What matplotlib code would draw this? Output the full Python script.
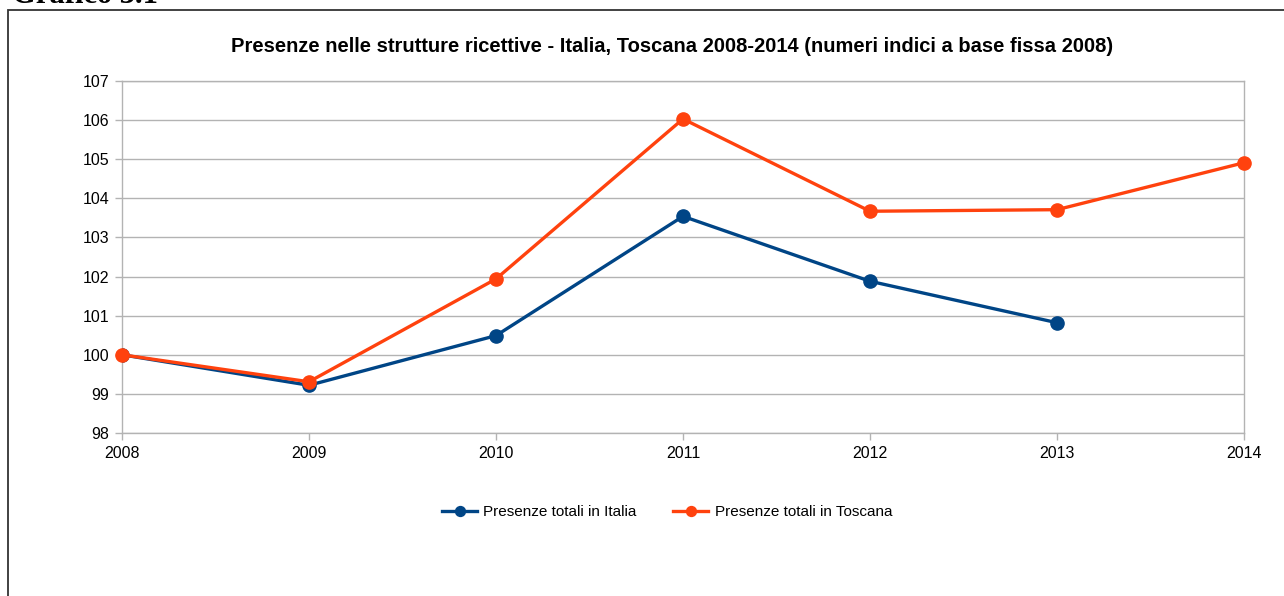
import matplotlib
matplotlib.use("Agg")
import matplotlib.pyplot as plt
from matplotlib.patches import Rectangle

plt.rcParams['font.family'] = ['Liberation Sans', 'DejaVu Sans']

anni = [2008, 2009, 2010, 2011, 2012, 2013, 2014]
italia = [100.0, 99.22, 100.49, 103.54, 101.88, 100.82]
toscana = [100.0, 99.31, 101.94, 106.03, 103.67, 103.71, 104.91]

blu = '#004586'
arancio = '#ff420e'
griglia = '#b3b3b3'

W, H = 1284, 596
fig = plt.figure(figsize=(W / 100, H / 100), dpi=100)

def px(x, y):
    return x / W, 1 - y / H

# cornice del grafico (tagliata a destra e in basso)
x0, y0 = px(8, 10)
fig.patches.append(Rectangle((x0, -0.1), 1.2, y0 + 0.1, transform=fig.transFigure,
                             fill=False, edgecolor='#333333', linewidth=1.3))

tx, ty = px(12, 3)
fig.text(tx, ty, 'Grafico 3.1', family='Liberation Serif', fontweight='bold',
         fontsize=22, ha='left', va='baseline')

l, t = px(122, 81)
r, b = px(1244, 433)
ax = fig.add_axes([l, b, r - l, t - b])

ax.plot(anni[:len(italia)], italia, color=blu, linewidth=2.4, marker='o',
        markersize=9.5, label='Presenze totali in Italia', zorder=3)
ax.plot(anni, toscana, color=arancio, linewidth=2.4, marker='o',
        markersize=9.5, label='Presenze totali in Toscana', zorder=4, clip_on=False)

ax.set_xlim(2008, 2014)
ax.set_ylim(98, 107)
ax.set_xticks(anni)
ax.set_yticks(range(98, 108))
ax.grid(axis='y', color=griglia, linewidth=1)
ax.set_axisbelow(True)
for s in ax.spines.values():
    s.set_color(griglia)
    s.set_linewidth(1)
ax.tick_params(axis='both', colors=griglia, labelcolor='black', labelsize=11.5,
               length=5, width=1)
ax.tick_params(axis='x', pad=4)
ax.tick_params(axis='y', pad=4)

cx, cy = px(672, 47)
fig.text(cx, cy, 'Presenze nelle strutture ricettive - Italia, Toscana 2008-2014 '
         '(numeri indici a base fissa 2008)', fontsize=14.5, fontweight='bold',
         ha='center', va='center')

lx, ly = px(667, 512)
fig.legend(loc='center', bbox_to_anchor=(lx, ly), ncol=2, frameon=False,
           fontsize=11, handlelength=2.3, columnspacing=2.4, handletextpad=0.4,
           markerscale=0.75)

fig.savefig('out.png', dpi=100)
